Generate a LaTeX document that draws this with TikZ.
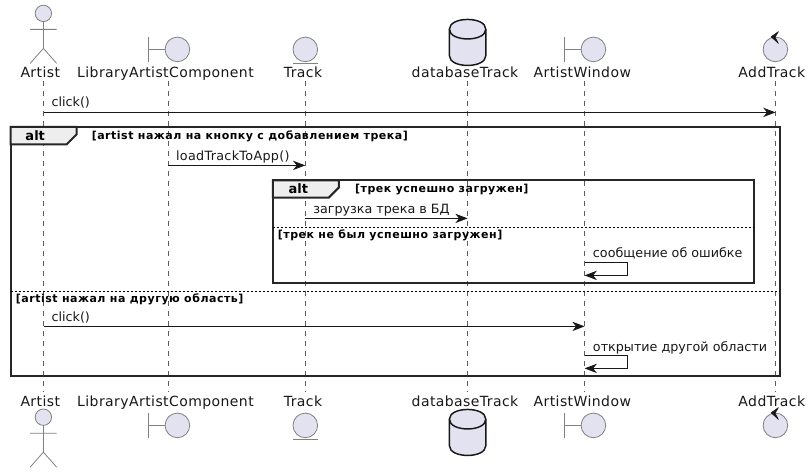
\documentclass[tikz,border=0pt]{standalone}
\usepackage{fontspec}
\setmainfont{DejaVu Sans}
\newfontfamily\partfont[LetterSpace=3]{DejaVu Sans}
\newfontfamily\condfont[LetterSpace=4.7]{DejaVu Sans Bold}
\newfontfamily\msgwide[LetterSpace=2.5]{DejaVu Sans}
\usetikzlibrary{arrows.meta}
\definecolor{ptfill}{HTML}{E2E2F0}
\definecolor{ink}{HTML}{181818}
\definecolor{tabfill}{HTML}{EEEEEE}
\tikzset{
  x=0.75pt,y=-0.75pt,
  partlabel/.style={anchor=base,inner sep=0pt,font=\fontsize{10.5pt}{12pt}\partfont,text=ink},
  msglabel/.style={anchor=base west,inner sep=0pt,font=\fontsize{9.55pt}{12pt}\selectfont,text=ink},
  condlabel/.style={anchor=base west,inner sep=0pt,font=\fontsize{8.25pt}{10pt}\condfont,text=black},
  altlabel/.style={anchor=base,inner sep=0pt,font=\fontsize{9.75pt}{12pt}\selectfont\bfseries,text=black},
  lifeline/.style={draw=ink!70,line width=0.5pt,dash pattern=on 3.75pt off 3.75pt},
  msg/.style={draw=ink,line width=0.75pt,-{Stealth[length=9.2pt,width=7pt,inset=2.8pt]}},
  thinpart/.style={draw=ink!55,line width=0.6pt},
  partfill/.style={draw=ink!55,fill=ptfill,line width=0.6pt},
  dbpart/.style={draw=ink,fill=ptfill,line width=1.1pt},
  frame/.style={draw=black!85,line width=1.5pt},
  tab/.style={draw=black!85,fill=tabfill,line width=1.5pt,line join=miter},
  divider/.style={draw=black,line width=0.75pt,dash pattern=on 1.5pt off 1.5pt},
}
\newcommand{\stick}[2]{%
  \draw[partfill] (#1,#2) circle[radius=8.2];
  \draw[thinpart] (#1,#2+8.2) -- (#1,#2+35) (#1-13.3,#2+16) -- (#1+13.3,#2+16)
    (#1-13.3,#2+50) -- (#1,#2+35) -- (#1+13.3,#2+50);}
\newcommand{\bound}[2]{%
  \draw[thinpart] (#1-29,#2-12.2) -- (#1-29,#2+12.2) (#1-29,#2) -- (#1-12,#2);
  \draw[partfill] (#1,#2) circle[radius=12.3];}
\newcommand{\ent}[2]{%
  \draw[partfill] (#1,#2) circle[radius=12.3];
  \draw[thinpart] (#1-12.3,#2+14) -- (#1+12.3,#2+14);}
\newcommand{\ctrl}[2]{%
  \draw[partfill] (#1,#2) circle[radius=12.3];
  \filldraw[ink,line width=0.4pt,line join=round] (#1+3,#2-17.8) -- (#1-4.3,#2-12.6) -- (#1+3,#2-6) -- (#1-0.3,#2-12.2) -- cycle;}
\newcommand{\dbcyl}[2]{%
  \draw[dbpart] (#1-18.2,#2+10) -- (#1-18.2,#2+36.5)
    .. controls (#1-18.2,#2+49.5) and (#1+18.2,#2+49.5) .. (#1+18.2,#2+36.5)
    -- (#1+18.2,#2+10)
    .. controls (#1+18.2,#2-3) and (#1-18.2,#2-3) .. (#1-18.2,#2+10) -- cycle;
  \draw[dbpart,fill=none] (#1-18.2,#2+10)
    .. controls (#1-18.2,#2+23) and (#1+18.2,#2+23) .. (#1+18.2,#2+10);}
\begin{document}
\begin{tikzpicture}
\useasboundingbox[fill=white] (0,0) rectangle (812,473);
% lifeline ends
\coordinate (artT) at (43.5,81);   \coordinate (artB) at (43.5,392);
\coordinate (libT) at (168.2,81);  \coordinate (libB) at (168.2,392);
\coordinate (trkT) at (305.3,81);  \coordinate (trkB) at (305.3,392);
\coordinate (dbT)  at (467.6,81);  \coordinate (dbB)  at (467.6,392);
\coordinate (winT) at (584.6,81);  \coordinate (winB) at (584.6,392);
\coordinate (addT) at (775.5,81);  \coordinate (addB) at (775.5,392);
\foreach \p in {art,lib,trk,db,win,add} \draw[lifeline] (\p T) -- (\p B);
% participant glyphs
\stick{43.4}{13.4} \stick{43.4}{417.2}
\bound{177.4}{49.4} \bound{177.4}{425.4}
\ent{305.3}{49.4} \ent{305.3}{425.4}
\dbcyl{467.6}{19.2} \dbcyl{467.6}{409.2}
\bound{593.4}{49.4} \bound{593.4}{425.4}
\ctrl{775.4}{49.4} \ctrl{775.4}{425.4}
% participant labels
\node[partlabel] (artL)  at (40.3,78) {Artist};
\node[partlabel] (libL)  at (165.5,78) {LibraryArtistComponent};
\node[partlabel] (trkL)  at (303,78) {Track};
\node[partlabel] (dbL)   at (465,78) {databaseTrack};
\node[partlabel] (winL)  at (582.3,78) {ArtistWindow};
\node[partlabel] (addL)  at (771.8,78) {AddTrack};
\node[partlabel] (artL2) at (40.3,406) {Artist};
\node[partlabel] (libL2) at (165.5,406) {LibraryArtistComponent};
\node[partlabel] (trkL2) at (303,406) {Track};
\node[partlabel] (dbL2)  at (465,406) {databaseTrack};
\node[partlabel] (winL2) at (582.3,406) {ArtistWindow};
\node[partlabel] (addL2) at (771.8,406) {AddTrack};
% outer alt
\draw[frame] (10.6,127) rectangle (780.4,376.3);
\draw[tab] (10.6,127) -- (76.7,127) -- (76.7,134.3) -- (66.7,144.3) -- (10.6,144.3) -- cycle;
\node[altlabel] (alt1) at (35.2,140.6) {alt};
\node[condlabel] (c1) at (91.5,139.8) {[artist нажал на кнопку с добавлением трека]};
\coordinate (d1a) at (10.6,291.3); \coordinate (d1b) at (780.4,291.3);
\draw[divider] (d1a) -- (d1b);
\node[condlabel] (c2) at (15.6,302.4) {[artist нажал на другую область]};
% inner alt
\draw[frame] (272.8,180.4) rectangle (754.4,283.4);
\draw[tab] (272.8,180.4) -- (338.8,180.4) -- (338.8,187.6) -- (328.8,197.6) -- (272.8,197.6) -- cycle;
\node[altlabel] (alt2) at (298.4,193.9) {alt};
\node[condlabel] (c3) at (354.8,193) {[трек успешно загружен]};
\coordinate (d2a) at (272.8,227.3); \coordinate (d2b) at (754.4,227.3);
\draw[divider] (d2a) -- (d2b);
\node[condlabel] (c4) at (277.6,238.2) {[трек не был успешно загружен]};
% messages
\coordinate (m1a) at (43.5,112.4); \coordinate (m1b) at (775.5,112.4);
\draw[msg] (m1a) -- (m1b);
\node[msglabel] (t1) at (51.3,106.8) {click()};
\coordinate (m2a) at (168.2,165.4); \coordinate (m2b) at (305.3,165.4);
\draw[msg] (m2a) -- (m2b);
\node[msglabel,font=\fontsize{9.55pt}{12pt}\msgwide] (t2) at (175.8,161) {loadTrackToApp()};
\coordinate (m3a) at (305.3,218.4); \coordinate (m3b) at (467.6,218.4);
\draw[msg] (m3a) -- (m3b);
\node[msglabel] (t3) at (313,214) {загрузка трека в БД};
\coordinate (m4a) at (584.6,262.3); \coordinate (m4b) at (584.6,275.4);
\draw[msg] (m4a) -- (627.8,262.3) -- (627.8,275.4) -- (m4b);
\node[msglabel] (t4) at (592.7,258) {сообщение об ошибке};
\coordinate (m5a) at (43.5,326.4); \coordinate (m5b) at (584.6,326.4);
\draw[msg] (m5a) -- (m5b);
\node[msglabel] (t5) at (51.3,321.8) {click()};
\coordinate (m6a) at (584.6,355.3); \coordinate (m6b) at (584.6,368.4);
\draw[msg] (m6a) -- (627.8,355.3) -- (627.8,368.4) -- (m6b);
\node[msglabel] (t6) at (592.7,351) {открытие другой области};
\end{tikzpicture}
\end{document}
